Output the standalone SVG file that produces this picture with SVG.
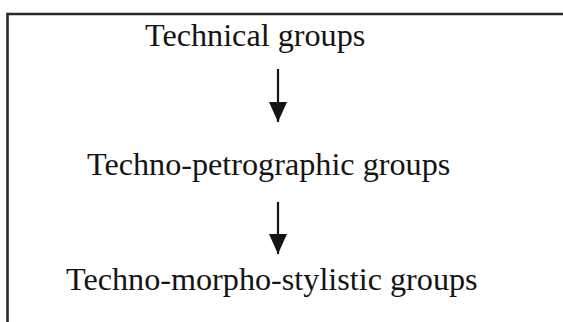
<svg xmlns="http://www.w3.org/2000/svg" width="563" height="322" viewBox="0 0 563 322">
<defs>
<style>
.lbl{font-family:"Liberation Serif","Times New Roman",serif;font-size:32.2px;fill:#141414;}
.frame{stroke:#2a2a2a;stroke-width:2.6;fill:none;}
.conn{stroke:#141414;stroke-width:2.2;fill:none;marker-end:url(#ah);}
</style>
<marker id="ah" viewBox="0 0 20 18" refX="20" refY="9" markerWidth="20" markerHeight="18" markerUnits="userSpaceOnUse" orient="auto">
<path d="M0,0 L20,9 L0,18 Z" fill="#141414"/>
</marker>
</defs>
<rect width="563" height="322" fill="#ffffff"/>
<path class="frame" d="M7.5,322 L7.5,14 L563,14"/>
<g id="node-technical"><text class="lbl" x="145" y="46">Technical groups</text></g>
<g id="node-petrographic"><text class="lbl" x="87" y="175">Techno-petrographic groups</text></g>
<g id="node-morpho"><text class="lbl" x="66" y="290">Techno-morpho-stylistic groups</text></g>
<g id="connectors">
<line class="conn" x1="278" y1="69" x2="278" y2="122"/>
<line class="conn" x1="278" y1="202" x2="278" y2="254"/>
</g>
</svg>
